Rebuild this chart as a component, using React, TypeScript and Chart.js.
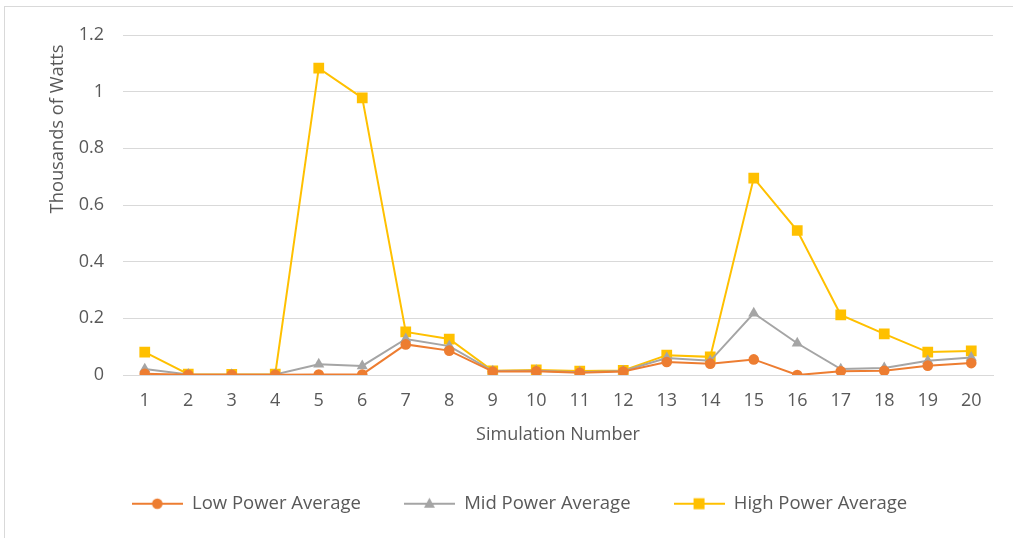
import React, { useEffect, useRef } from "react";
import { Chart, registerables } from "chart.js";

Chart.register(...registerables);

const categories = ["1","2","3","4","5","6","7","8","9","10","11","12","13","14","15","16","17","18","19","20"];
const lowPower = [0.004,0.001,0.001,0.001,0.002,0.002,0.108,0.086,0.012,0.013,0.008,0.012,0.046,0.040,0.055,0.000,0.013,0.015,0.033,0.042];
const midPower = [0.021,0.002,0.001,0.002,0.038,0.032,0.127,0.102,0.014,0.015,0.010,0.014,0.060,0.050,0.218,0.112,0.021,0.025,0.050,0.062];
const highPower = [0.081,0.003,0.002,0.003,1.083,0.978,0.152,0.127,0.015,0.018,0.014,0.016,0.070,0.064,0.695,0.510,0.212,0.145,0.081,0.085];
const seriesNames = ["Low Power Average", "Mid Power Average", "High Power Average"];
const yTicks = [0, 0.2, 0.4, 0.6, 0.8, 1, 1.2];

const COLORS = ["#ED7D31", "#A5A5A5", "#FFC000"];
const STYLES = ["circle", "triangle", "rect"];
const RADII = [5.3, 6.4, 7.6];
const FONT = "'Open Sans', sans-serif";

function legendIcon(color: string, style: string): HTMLCanvasElement {
  const c = document.createElement("canvas");
  c.width = 51;
  c.height = 14;
  const ctx = c.getContext("2d")!;
  ctx.strokeStyle = color;
  ctx.lineWidth = 2;
  ctx.beginPath();
  ctx.moveTo(0, 7);
  ctx.lineTo(51, 7);
  ctx.stroke();
  ctx.fillStyle = color;
  const cx = 25.5, cy = 7;
  if (style === "circle") {
    ctx.beginPath();
    ctx.arc(cx, cy, 5.3, 0, Math.PI * 2);
    ctx.fill();
  } else if (style === "triangle") {
    ctx.beginPath();
    ctx.moveTo(cx, cy - 6);
    ctx.lineTo(cx + 5.5, cy + 4);
    ctx.lineTo(cx - 5.5, cy + 4);
    ctx.closePath();
    ctx.fill();
  } else {
    ctx.fillRect(cx - 5.5, cy - 5.5, 11, 11);
  }
  return c;
}

export default function App() {
  const ref = useRef<HTMLCanvasElement | null>(null);
  useEffect(() => {
    if (!ref.current) return;
    const data = [lowPower, midPower, highPower];
    const chart = new Chart(ref.current, {
      type: "line",
      data: {
        labels: categories,
        datasets: data.map((d, i) => ({
          label: seriesNames[i],
          data: d,
          borderColor: COLORS[i],
          backgroundColor: COLORS[i],
          borderWidth: 2,
          pointStyle: STYLES[i] as any,
          pointRadius: RADII[i],
          pointBorderWidth: 0,
          tension: 0,
          fill: false,
        })),
      },
      options: {
        animation: false,
        responsive: false,
        maintainAspectRatio: false,
        layout: { padding: { left: 46, right: 20, top: 35, bottom: 15 } },
        plugins: {
          tooltip: { enabled: false },
          legend: {
            position: "bottom",
            labels: {
              usePointStyle: true,
              pointStyleWidth: 51,
              boxHeight: 14,
              padding: 43,
              color: "#595959",
              font: { family: FONT, size: 18.5 },
              generateLabels: () =>
                seriesNames.map((n, i) => ({
                  text: n,
                  pointStyle: legendIcon(COLORS[i], STYLES[i]) as any,
                  fillStyle: COLORS[i],
                  strokeStyle: COLORS[i],
                  lineWidth: 0,
                  hidden: false,
                  datasetIndex: i,
                  fontColor: "#595959",
                })),
            },
          },
        },
        scales: {
          x: {
            offset: true,
            grid: { display: false, drawTicks: false },
            border: { display: true, color: "#D9D9D9", width: 1 },
            ticks: { color: "#595959", font: { family: FONT, size: 18 }, padding: 15, maxRotation: 0, autoSkip: false },
            title: { display: true, text: "Simulation Number", color: "#595959", font: { family: FONT, size: 18 }, padding: { top: 0, bottom: 6 } },
            afterFit: (s: any) => { s.height = 76.5; },
          },
          y: {
            min: 0,
            max: 1.2,
            afterBuildTicks: (s: any) => { s.ticks = yTicks.map((v) => ({ value: v })); },
            grid: { color: "#D9D9D9", lineWidth: 1, drawTicks: false },
            border: { display: false },
            ticks: { color: "#595959", font: { family: FONT, size: 18 }, padding: 19, callback: (v: any) => String(Math.round(Number(v) * 10) / 10) },
            title: { display: true, align: "end", text: "Thousands of Watts\u00A0\u00A0", color: "#595959", font: { family: FONT, size: 18.3 }, padding: { top: 1, bottom: 0 } },
            afterFit: (s: any) => { s.width = 77; },
          },
        },
      },
    });
    return () => chart.destroy();
  }, []);
  return (
    <div style={{ position: "absolute", left: 0, top: 0, width: 1013, height: 538, background: "#fff", overflow: "hidden" }}>
      <div style={{ position: "absolute", left: 4, top: 6, width: 1012, height: 540, border: "1px solid #D9D9D9", boxSizing: "border-box" }} />
      <canvas ref={ref} width={1013} height={538} style={{ position: "absolute", left: 0, top: 0, display: "block" }} />
    </div>
  );
}
